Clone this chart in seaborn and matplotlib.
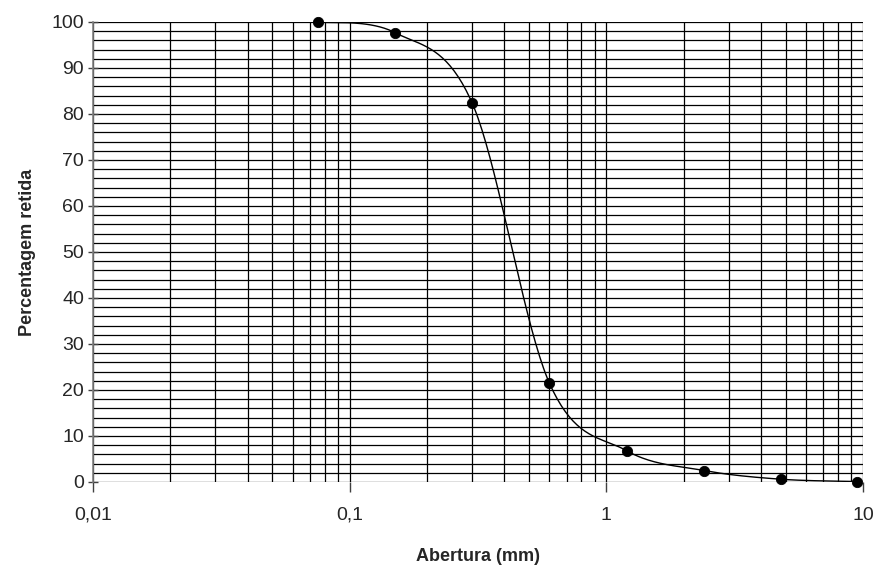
import numpy as np
import pandas as pd
import matplotlib
matplotlib.use("Agg")
import matplotlib.pyplot as plt
from matplotlib.ticker import FixedLocator, LogLocator, NullFormatter
import seaborn as sns

# Sieve openings (mm) and cumulative retained percentage
abertura = [0.075, 0.15, 0.3, 0.6, 1.2, 2.4, 4.8, 9.5]
retida = [100.0, 97.7, 82.4, 21.5, 6.8, 2.5, 0.6, 0.1]
x_ticks = [0.01, 0.1, 1, 10]
x_tick_labels = ["0,01", "0,1", "1", "10"]
y_ticks = list(range(0, 101, 10))

sns.set_theme(style="white")
plt.rcParams["font.family"] = ["Liberation Sans", "DejaVu Sans"]


def smooth_curve(xs, ys, n=40):
    """Catmull-Rom style Bezier smoothing in log-x space."""
    lx = np.log10(np.asarray(xs, float))
    y = np.asarray(ys, float)
    pts = np.column_stack([lx, y])
    out = []
    for i in range(len(pts) - 1):
        p0 = pts[i - 1] if i > 0 else pts[i]
        p1 = pts[i]
        p2 = pts[i + 1]
        p3 = pts[i + 2] if i + 2 < len(pts) else pts[i + 1]
        c1 = p1 + (p2 - p0) / 6.0
        c2 = p2 - (p3 - p1) / 6.0
        t = np.linspace(0, 1, n)[:, None]
        seg = ((1 - t) ** 3) * p1 + 3 * ((1 - t) ** 2) * t * c1 + 3 * (1 - t) * t ** 2 * c2 + t ** 3 * p2
        out.append(seg if i == 0 else seg[1:])
    seg = np.vstack(out)
    return 10 ** seg[:, 0], seg[:, 1]


cx, cy = smooth_curve(abertura, retida)
curve = pd.DataFrame({"x": cx, "y": cy})
pts = pd.DataFrame({"Abertura": abertura, "Retida": retida})

fig = plt.figure(figsize=(8.75, 5.68), dpi=100)
ax = fig.add_axes([93 / 875, 1 - 482 / 568, (863 - 93) / 875, (482 - 22) / 568])
ax.set_xscale("log")
ax.set_xlim(0.01, 10)
ax.set_ylim(0, 100)

# grid: every decade subdivision on x, every 2 units on y
ax.xaxis.set_major_locator(FixedLocator(x_ticks))
ax.xaxis.set_minor_locator(LogLocator(base=10, subs=np.arange(2, 10)))
ax.xaxis.set_minor_formatter(NullFormatter())
ax.set_xticklabels(x_tick_labels)
ax.yaxis.set_major_locator(FixedLocator(y_ticks))
ax.yaxis.set_minor_locator(FixedLocator(list(range(0, 101, 2))))
ax.grid(True, which="both", axis="both", color="black", linewidth=0.9)
ax.set_axisbelow(True)

sns.lineplot(data=curve, x="x", y="y", ax=ax, color="black", linewidth=1.0,
             sort=False, estimator=None)
sns.scatterplot(data=pts, x="Abertura", y="Retida", ax=ax, color="black",
                s=55, edgecolor="black", zorder=5, clip_on=False)

for side in ["top", "right", "bottom"]:
    ax.spines[side].set_visible(False)
ax.spines["left"].set_color("#808080")
ax.spines["left"].set_linewidth(1.2)

ax.tick_params(axis="y", which="major", left=True, length=7, width=1, color="#404040",
               labelsize=14, pad=3, direction="inout")
ax.tick_params(axis="y", which="minor", left=False)
ax.tick_params(axis="x", which="major", bottom=True, length=7, width=1, color="#404040",
               labelsize=14, pad=11, direction="out")
ax.tick_params(axis="x", which="minor", bottom=False)

ax.set_xlabel("Abertura (mm)", fontsize=13, fontweight="bold", labelpad=17)
ax.set_ylabel("Percentagem retida", fontsize=13, fontweight="bold", labelpad=11)

fig.savefig("out.png", dpi=100)
